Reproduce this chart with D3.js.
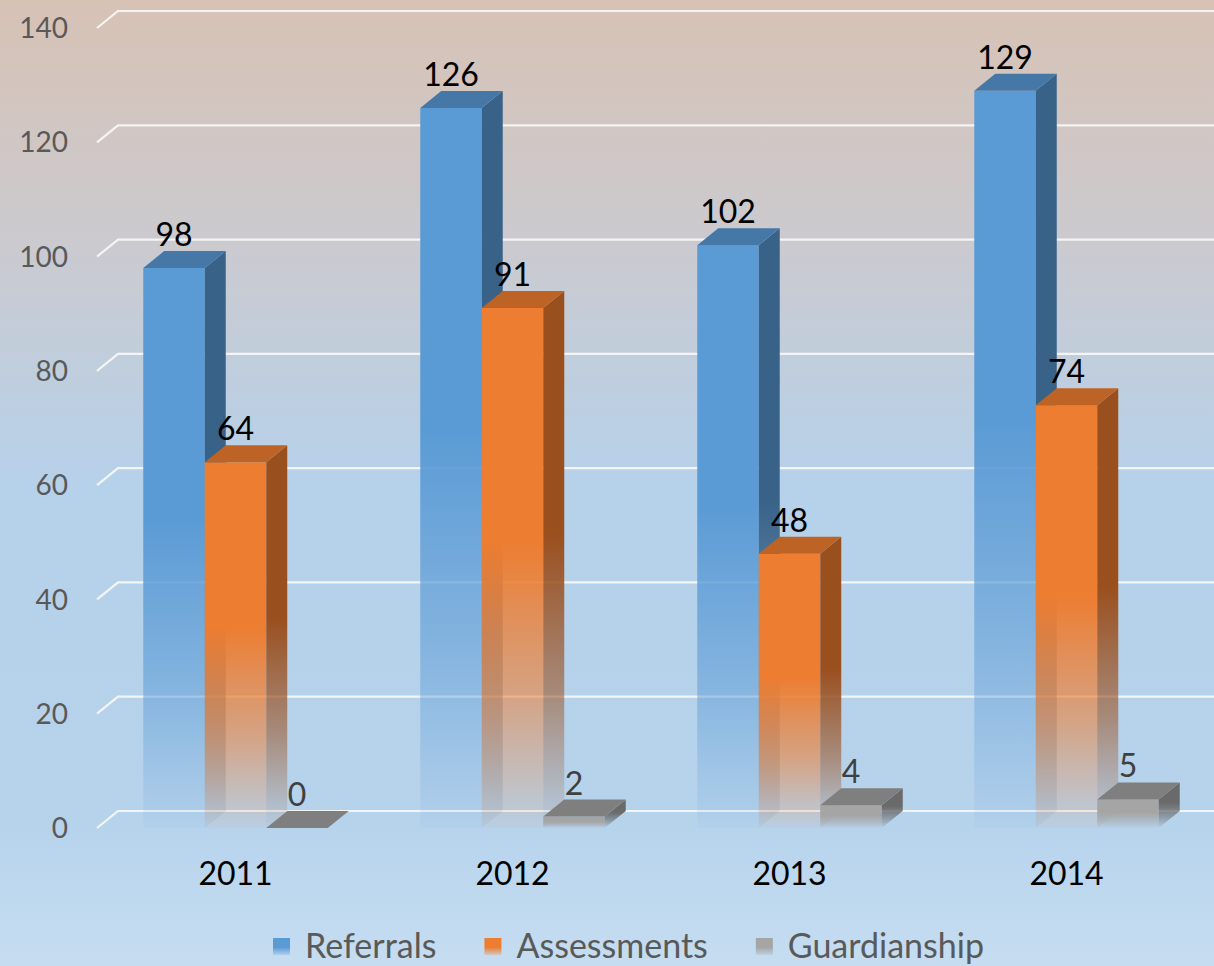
<!DOCTYPE html>
<html lang="en">
<head>
  <meta charset="utf-8">
  <title>Referrals, Assessments, Guardianship</title>
  <style>
    body { margin:0; background:#c6ddf1; }
    svg  { display:block; }
    text { font-family: Lato, "Open Sans", sans-serif; }
  </style>
</head>
<body>
<script src="https://d3js.org/d3.v7.min.js"></script>
<script>

// data
const years = ["2011", "2012", "2013", "2014"];
const seriesNames = ["Referrals", "Assessments", "Guardianship"];
const referrals = [98, 126, 102, 129];
const assessments = [64, 91, 48, 74];
const guardianship = [0, 2, 4, 5];
const yTicks = [0, 20, 40, 60, 80, 100, 120, 140];

const values = [referrals, assessments, guardianship];

const width = 1214, height = 966;

// 3D depth offset of the back wall
const dx = 21, dy = -17;

// colours per series: front, top, side, label
const colors = [
  { front: "#5b9bd5", top: "#4577a7", side: "#386288", label: "#000" },
  { front: "#ed7d31", top: "#bd6325", side: "#9a4f1e", label: "#000" },
  { front: "#a5a5a5", top: "#7f7f7f", side: "#6a6a6a", label: "#404040" }
];

const svg = d3.select("body").append("svg")
  .attr("width", width)
  .attr("height", height);

const defs = svg.append("defs");

// background gradient
const bg = defs.append("linearGradient")
  .attr("id", "bg")
  .attr("x1", 0).attr("y1", 0).attr("x2", 0).attr("y2", 1);
[["0%", "#d7c2b5"], ["25%", "#cbcacf"], ["50%", "#b6d1ea"], ["85%", "#b6d3ec"], ["100%", "#c6ddf1"]]
  .forEach(([o, c]) => bg.append("stop").attr("offset", o).attr("stop-color", c));

svg.append("rect")
  .attr("width", width)
  .attr("height", height)
  .attr("fill", "url(#bg)");

// fading gradients for bars (front and side faces)
colors.forEach((c, i) => {
  ["front", "side"].forEach(face => {
    const g = defs.append("linearGradient")
      .attr("id", `g${i}${face}`)
      .attr("x1", 0).attr("y1", 0).attr("x2", 0).attr("y2", 1);
    [[0, 1], [0.45, 1], [0.75, 0.55], [1, 0.05]].forEach(([o, a]) =>
      g.append("stop")
        .attr("offset", o)
        .attr("stop-color", c[face])
        .attr("stop-opacity", a));
  });
});

// scales
const x = d3.scaleBand()
  .domain(years)
  .range([97, 1205])
  .paddingInner(0.334)
  .paddingOuter(0.167);

const xs = d3.scaleBand()
  .domain(seriesNames)
  .range([0, x.bandwidth()]);

const y = d3.scaleLinear()
  .domain([0, 140])
  .range([828, 28]);

// gridlines (front diagonal + back wall)
svg.append("g")
  .selectAll("path")
  .data(yTicks)
  .join("path")
    .attr("d", d => `M97,${y(d)}L${97 + dx},${y(d) + dy}H${width}`)
    .attr("fill", "none")
    .attr("stroke", "#f4f4f4")
    .attr("stroke-width", 2.2);

// tick labels
svg.append("g")
  .selectAll("text")
  .data(yTicks)
  .join("text")
    .attr("x", 68)
    .attr("y", d => y(d))
    .attr("dy", "0.36em")
    .attr("text-anchor", "end")
    .attr("fill", "#595959")
    .style("font-size", "28px")
    .text(d => d);

// bars
const bars = [];
years.forEach((yr, j) => {
  seriesNames.forEach((s, i) => {
    bars.push({ year: yr, series: s, i, value: values[i][j] });
  });
});

const bw = xs.bandwidth();
const y0 = y(0);

const barG = svg.append("g")
  .selectAll("g")
  .data(bars)
  .join("g");

// front face
barG.filter(d => d.value > 0)
  .append("rect")
    .attr("x", d => x(d.year) + xs(d.series))
    .attr("y", d => y(d.value))
    .attr("width", bw)
    .attr("height", d => y0 - y(d.value))
    .attr("fill", d => `url(#g${d.i}front)`);

// side face
barG.filter(d => d.value > 0)
  .append("path")
    .attr("d", d => {
      const x1 = x(d.year) + xs(d.series) + bw, yt = y(d.value);
      return `M${x1},${yt}L${x1 + dx},${yt + dy}L${x1 + dx},${y0 + dy}L${x1},${y0}Z`;
    })
    .attr("fill", d => `url(#g${d.i}side)`);

// top face
barG.append("path")
  .attr("d", d => {
    const x0 = x(d.year) + xs(d.series), yt = y(d.value);
    return `M${x0},${yt}L${x0 + bw},${yt}L${x0 + bw + dx},${yt + dy}L${x0 + dx},${yt + dy}Z`;
  })
  .attr("fill", d => colors[d.i].top);

// value labels
barG.append("text")
  .attr("x", d => x(d.year) + xs(d.series) + bw / 2)
  .attr("y", d => y(d.value) + dy - 5)
  .attr("text-anchor", "middle")
  .attr("fill", d => colors[d.i].label)
  .style("font-size", "32px")
  .text(d => d.value);

// category labels
svg.append("g")
  .selectAll("text")
  .data(years)
  .join("text")
    .attr("x", d => x(d) + x.bandwidth() / 2)
    .attr("y", y0 + 57)
    .attr("text-anchor", "middle")
    .attr("fill", "#000")
    .style("font-size", "32px")
    .text(d => d);

// legend
const legend = svg.append("g");
let lx = 273;
seriesNames.forEach((s, i) => {
  const sg = defs.append("linearGradient")
    .attr("id", `leg${i}`)
    .attr("x1", 0).attr("y1", 0).attr("x2", 0).attr("y2", 1);
  [[0, 1], [0.55, 1], [1, 0.2]].forEach(([o, a]) =>
    sg.append("stop").attr("offset", o).attr("stop-color", colors[i].front).attr("stop-opacity", a));
  legend.append("rect")
    .attr("x", lx)
    .attr("y", 938)
    .attr("width", 17)
    .attr("height", 17)
    .attr("fill", `url(#leg${i})`);
  const t = legend.append("text")
    .attr("x", lx + 32)
    .attr("y", 958)
    .attr("fill", "#595959")
    .style("font-size", "34px")
    .text(s);
  lx += 32 + t.node().getComputedTextLength() + 48;
});

</script>
</body>
</html>
